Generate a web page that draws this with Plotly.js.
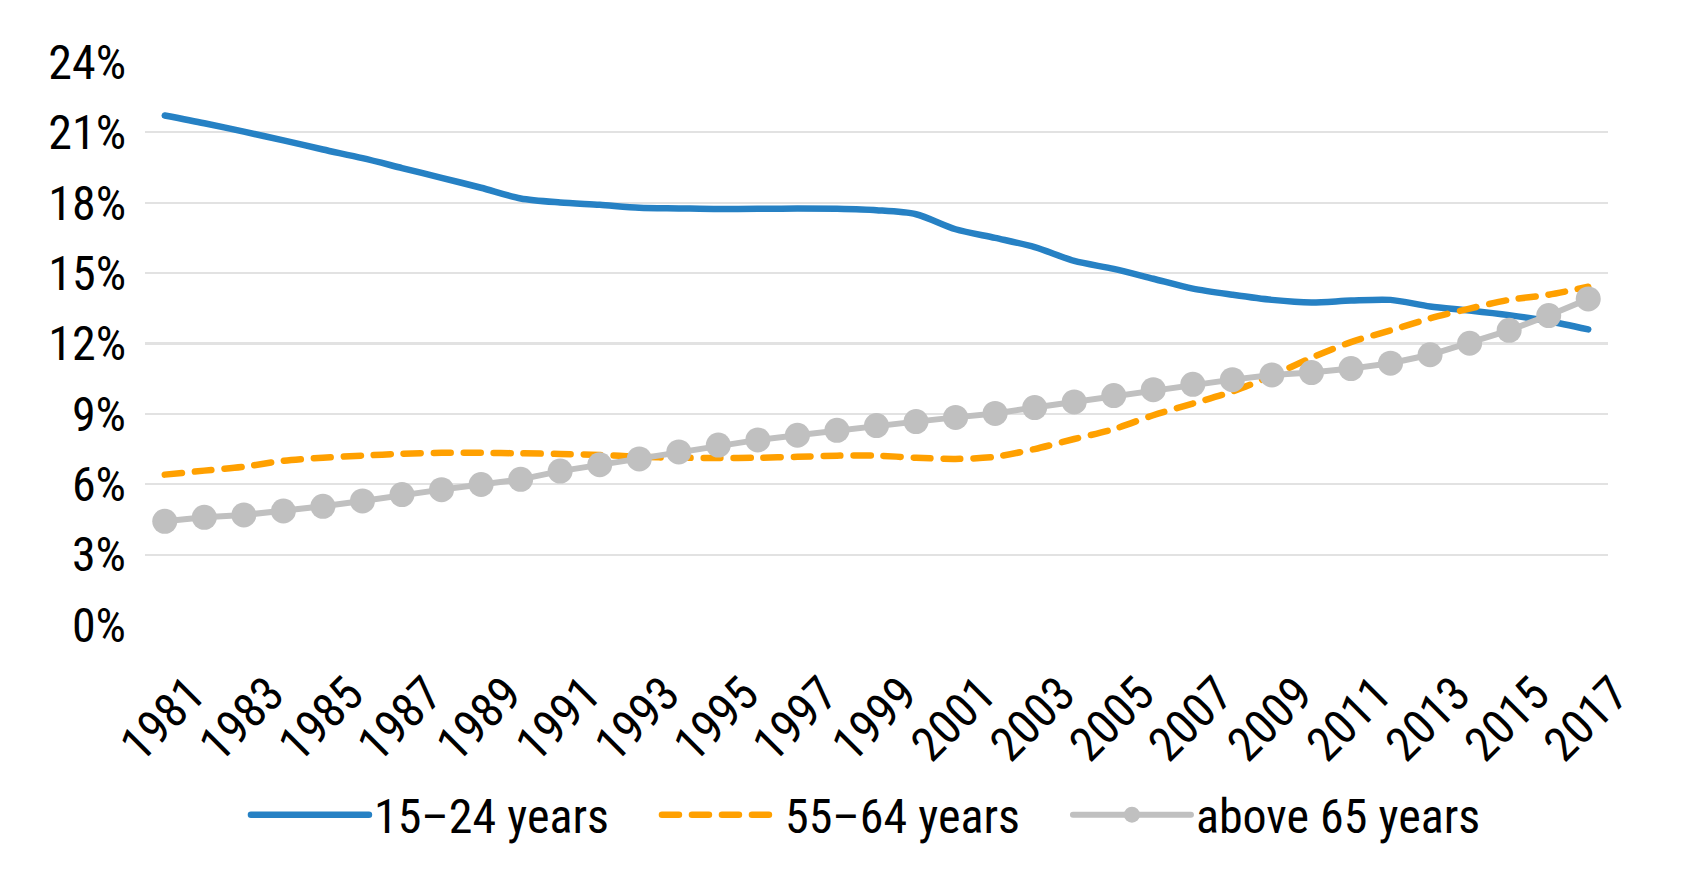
<!DOCTYPE html>
<html>
<head>
<meta charset="utf-8">
<script src="https://cdn.plot.ly/plotly-3.0.1.min.js"></script>
<style>
html,body{margin:0;padding:0;background:#fff;}
#chart{width:1686px;height:874px;}
path.js-line{stroke-linecap:round;}
</style>
</head>
<body>
<div id="chart"></div>
<script>
const years = ['1981','1982','1983','1984','1985','1986','1987','1988','1989','1990',
  '1991','1992','1993','1994','1995','1996','1997','1998','1999','2000',
  '2001','2002','2003','2004','2005','2006','2007','2008','2009','2010',
  '2011','2012','2013','2014','2015','2016','2017'];
const tickYears = ['1981','1983','1985','1987','1989','1991','1993','1995','1997','1999',
  '2001','2003','2005','2007','2009','2011','2013','2015','2017'];
const youth = [21.72,21.39,21.03,20.66,20.27,19.90,19.48,19.06,18.64,18.18,
  18.01,17.91,17.79,17.76,17.73,17.74,17.76,17.74,17.68,17.51,
  16.87,16.50,16.11,15.52,15.18,14.76,14.34,14.08,13.86,13.75,
  13.83,13.86,13.58,13.41,13.21,12.95,12.60];
const older = [6.41,6.58,6.75,7.00,7.13,7.22,7.30,7.34,7.34,7.32,
  7.29,7.25,7.17,7.13,7.12,7.13,7.17,7.22,7.22,7.13,
  7.08,7.17,7.50,7.93,8.35,8.94,9.44,9.95,10.63,11.39,
  12.06,12.56,13.07,13.49,13.86,14.08,14.42];
const elderly = [4.42,4.59,4.69,4.86,5.06,5.29,5.56,5.77,5.99,6.21,
  6.56,6.83,7.08,7.38,7.67,7.89,8.09,8.30,8.50,8.67,
  8.85,9.02,9.27,9.51,9.78,10.03,10.26,10.46,10.66,10.76,
  10.93,11.16,11.52,12.01,12.56,13.19,13.90];
const seriesNames = ['15\u201324 years','55\u201364 years','above 65 years'];
const yTicks = [0,3,6,9,12,15,18,21,24];

const FONT = '"Roboto Condensed", "Liberation Sans", Arial, sans-serif';
const FS = 48;

const traces = [
  {x: years, y: youth, name: seriesNames[0], type: 'scatter', mode: 'lines',
   line: {color: '#2681C4', width: 6.5, shape: 'spline', smoothing: 0.8}},
  {x: years, y: older, name: seriesNames[1], type: 'scatter', mode: 'lines',
   line: {color: '#FFA000', width: 6.5, shape: 'spline', smoothing: 0.8, dash: '17px,13px'}},
  {x: years, y: elderly, name: seriesNames[2], type: 'scatter', mode: 'lines+markers',
   line: {color: '#C0C0C0', width: 6}, marker: {color: '#C0C0C0', size: 25}}
];

const layout = {
  width: 1686, height: 874,
  margin: {l: 145, r: 78, t: 62, b: 249},
  paper_bgcolor: '#ffffff', plot_bgcolor: '#ffffff',
  font: {family: FONT, size: FS, color: '#000000'},
  showlegend: true,
  legend: {orientation: 'h', x: 0.069, xanchor: 'left', y: -0.3375, yanchor: 'middle',
    font: {family: FONT, size: FS, color: '#000000'}, itemwidth: 118,
    entrywidth: 278, entrywidthmode: 'pixels',
    traceorder: 'normal', bgcolor: 'rgba(0,0,0,0)'},
  xaxis: {type: 'category', range: [-0.5, 36.5], tickmode: 'array', tickvals: tickYears,
    ticktext: tickYears, tickangle: -45, showgrid: false, zeroline: false, showline: false,
    ticks: '', ticklabelshift: 26, ticklabelstandoff: 30,
    tickfont: {family: FONT, size: FS, color: '#000000'}},
  yaxis: {range: [0, 24], tickmode: 'array', tickvals: yTicks,
    ticktext: yTicks.map(v => v + '%'), showgrid: true, gridcolor: '#E2E2E2', gridwidth: 2.2,
    zeroline: false, showline: false, ticks: '', ticklabelstandoff: 18,
    tickfont: {family: FONT, size: FS, color: '#000000'}}
};

Plotly.newPlot('chart', traces, layout, {staticPlot: true, displayModeBar: false});
</script>
</body>
</html>
